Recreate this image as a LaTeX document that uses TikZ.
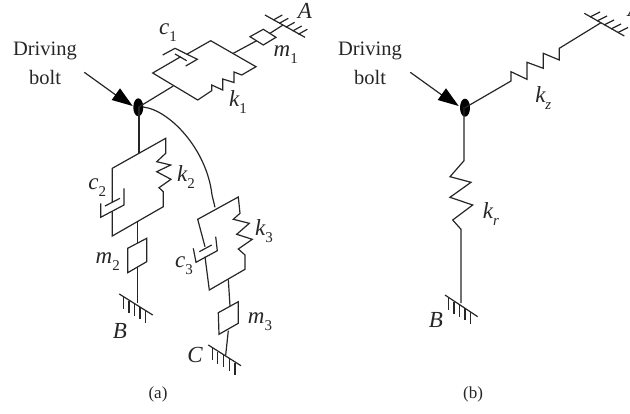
\documentclass[tikz,border=0pt]{standalone}
\usepackage{fontspec}
\setmainfont{Liberation Serif}
\newcommand{\lblsub}[2]{{\itshape #1}\raisebox{-0.3em}{\fontsize{15}{15}\selectfont #2}}
\newcommand{\lblsubit}[2]{{\itshape #1}\raisebox{-0.3em}{\fontsize{15}{15}\selectfont\itshape #2}}
\tikzset{
  mech/.style={draw=black!85,line width=1.2pt,line join=miter},
  hatchtick/.style={draw=black!85,line width=1.2pt},
  txt/.style={inner sep=0pt,font=\fontsize{20.5}{22}\selectfont,text=black!85},
  sym/.style={inner sep=0pt,font=\fontsize{23}{24}\selectfont,text=black!85},
  captxt/.style={inner sep=0pt,font=\fontsize{17}{19}\selectfont,text=black!85},
}
\begin{document}
\begin{tikzpicture}[x=1pt,y=-1pt]
\useasboundingbox (0,0) rectangle (630,413);
% ---- (a) ----
\node[txt] (da1) at (45,51) {Driving};
\node[txt] (da2) at (45,77) {bolt};
\draw[mech] (84.3,72.3) -- (120,98);
\fill[black] (132.7,106) -- (120,88.3) -- (111.7,100) -- cycle;
\fill[black] (138.3,107.3) ellipse (5 and 9);
% upper branch
\draw[mech] (138.3,107.3) -- (173.3,86);
\draw[mech] (180.7,56.7) -- (152.7,73) -- (197.7,100) -- (211.7,90.7) -- (211.7,85) -- (222.7,90) -- (222.7,79) -- (234,82.5) -- (234,72) -- (241.7,75) -- (256,66.7) -- (210.7,40.7) -- (187.3,54);
\draw[mech] (162.7,55) -- (175,48.3) -- (197.3,59.3) -- (185.7,66);
\draw[mech] (175,54) -- (186.7,60.7);
\draw[mech] (233.3,53.3) -- (256.7,40.7);
\draw[mech] (250,36.7) -- (263.3,29.3) -- (276,37.3) -- (263.3,45) -- cycle;
\draw[mech] (270,33.3) -- (283,25);
\draw[mech] (265,15) -- (305,37.3);
\foreach \a/\b in {273.3/20,279.3/23.3,285.7/27.3,292.7/31,298.3/34.3}
  \draw[hatchtick] (\a,\b) -- ++(9,-5);
% lower branch 2
\draw[mech] (139,107) -- (139,153.3);
\draw[mech] (112.3,202) -- (112.3,168.3) -- (165.7,138.3) -- (165.7,153.3) -- (156.7,161.7) -- (170.7,165) -- (156.7,171.7) -- (171,179.3) -- (159,187.7) -- (163.3,191.7) -- (163.3,206.7) -- (112.3,236) -- (112.3,211);
\draw[mech] (105,206) -- (120,198.3);
\draw[mech] (100.7,203.3) -- (100.7,217.3) -- (124,205) -- (124,188.3);
\draw[mech] (137.3,221.7) -- (137.3,243.3);
\draw[mech] (127.7,248.3) -- (146.7,238.3) -- (146.7,261.7) -- (127.7,272.7) -- cycle;
\draw[mech] (137.3,266.7) -- (137.3,303);
\draw[mech] (119.3,294) -- (152.7,315);
\foreach \a/\b in {123.3/297,129/300.5,134.3/304,140/307,145.7/311}
  \draw[hatchtick] (\a,\b) -- ++(0,12);
% lower branch 3
\draw[mech] (143,107) .. controls (170,110) and (207,150) .. (212,195) -- (215,207.3);
\draw[mech] (205,246.7) -- (197.7,219.3) -- (238.3,197) -- (240,213.3) -- (233.3,219.3) -- (249.3,223.3) -- (236.7,234.3) -- (252.3,239.3) -- (238.3,249) -- (245,255) -- (245,269.3) -- (209.3,290) -- (205,256.7);
\draw[mech] (199.3,251.7) -- (211.7,245);
\draw[mech] (193.3,248.3) -- (196,262.3) -- (217.3,250.7) -- (215.7,236.7);
\draw[mech] (228.3,279.3) -- (230,306);
\draw[mech] (218.3,312.7) -- (238.3,301.7) -- (238.3,323.3) -- (219,334.3) -- cycle;
\draw[mech] (228.3,330.7) -- (225.7,355);
\draw[mech] (208.3,345) -- (241,365.7);
\foreach \a/\b in {212.7/348,217.7/351.7,223.3/355,229.3/359.3,235/363.3}
  \draw[hatchtick] (\a,\b) -- ++(0,12);
% labels (a)
\node[sym] (c1) at (168,33) {\lblsub{c}{1}};
\node[sym] (m1) at (285.7,55) {\lblsub{m}{1}};
\node[sym] (k1) at (238,102) {\lblsub{k}{1}};
\node[sym] (A1) at (305,11) {\itshape A};
\node[sym] (c2) at (97.3,188) {\lblsub{c}{2}};
\node[sym] (k2) at (186,177) {\lblsub{k}{2}};
\node[sym] (m2) at (107.7,262) {\lblsub{m}{2}};
\node[sym] (B1) at (120,331) {\itshape B};
\node[sym] (c3) at (184,266) {\lblsub{c}{3}};
\node[sym] (k3) at (264,231) {\lblsub{k}{3}};
\node[sym] (m3) at (260,322) {\lblsub{m}{3}};
\node[sym] (C1) at (195,355) {\itshape C};
\node[captxt] (capa) at (158,394) {(a)};
% ---- (b) ----
\node[txt] (db1) at (370,51) {Driving};
\node[txt] (db2) at (370,77) {bolt};
\draw[mech] (410.3,72.3) -- (446,98);
\fill[black] (458.7,106) -- (446,88.3) -- (437.7,100) -- cycle;
\fill[black] (465,107.7) ellipse (5 and 9);
\draw[mech] (465,107.7) -- (511,81) -- (511,71.7) -- (527,79.3) -- (527,62.3) -- (543.3,68.3) -- (543.3,53.3) -- (559.3,60) -- (559.3,48.3) -- (601,22.7);
\draw[mech] (584.3,13.3) -- (624.3,36);
\foreach \a/\b in {590/17,597/21,604/25,611/29,618/32.5}
  \draw[hatchtick] (\a,\b) -- ++(10,-5);
\draw[mech] (464,107) -- (464,160.7) -- (450,176.7) -- (471,182.3) -- (450,197.3) -- (472.7,205) -- (452.7,220) -- (461,229.3) -- (461,303);
\draw[mech] (445,295) -- (477.7,316.7);
\foreach \a/\b in {448.3/297.5,454/301.5,459.3/304.5,465/308,470.7/312}
  \draw[hatchtick] (\a,\b) -- ++(0,12);
\node[sym] (kz) at (543.3,98) {\lblsubit{k}{z}};
\node[sym] (kr) at (491,214) {\lblsubit{k}{r}};
\node[sym] (B2) at (436,320) {\itshape B};
\node[sym] (A2) at (635,9) {\itshape A};
\node[captxt] (capb) at (473,394) {(b)};
\end{tikzpicture}
\end{document}
